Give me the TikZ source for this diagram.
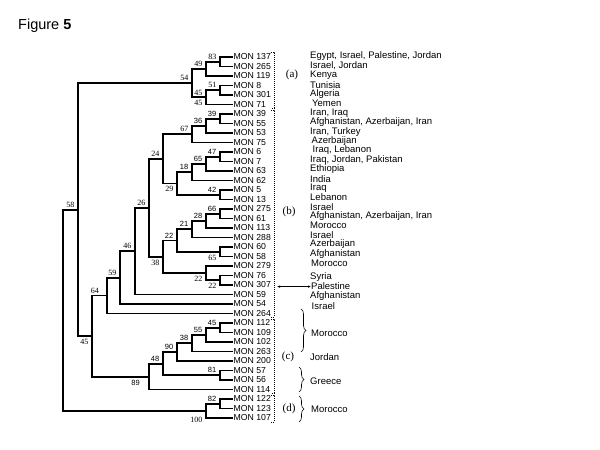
\documentclass[tikz,border=0pt]{standalone}
\usepackage{fontspec}
\setmainfont{Liberation Sans}
\newfontfamily\tnr{Liberation Serif}
\usetikzlibrary{decorations.pathreplacing,arrows.meta}

\tikzset{
  br/.style={line width=1.9pt},
  leaf/.style={anchor=west, inner sep=0.5pt, font=\fontsize{8.7}{9}\selectfont},
  ctry/.style={anchor=west, inner sep=0pt, font=\fontsize{9.5}{10}\selectfont},
  up/.style={anchor=south east, inner sep=0pt, xshift=-3.5pt, yshift=2pt},
  dn/.style={anchor=north east, inner sep=0pt, xshift=-3.5pt, yshift=-3pt},
  ts/.style={font=\tnr\fontsize{8}{8}\selectfont},
  ss/.style={font=\fontsize{7.5}{7.5}\selectfont},
  grp/.style={font=\tnr\fontsize{11}{11}\selectfont, inner sep=0pt},
  bkt/.style={line width=1pt, dash pattern=on 1pt off 1pt},
  brc/.style={decorate, decoration={brace, amplitude=5pt}, line width=0.6pt},
}

\begin{document}
\begin{tikzpicture}[x=1pt, y=-1pt]
\useasboundingbox (0,0) rectangle (600,450);

\node[anchor=base west, inner sep=0pt, font=\fontsize{14.5}{15}\selectfont] (fig) at (18,29.3) {Figure \textbf{5}};

% leaves
\foreach \m [count=\i] in {137,265,119,8,301,71,39,55,53,75,6,7,63,62,5,13,275,61,113,288,60,58,279,76,307,59,54,264,112,109,102,263,200,57,56,114,122,123,107}
  \node[leaf] (l\m) at (233,{57+9.5*(\i-1)}) {MON \m};

% internal nodes
\coordinate (n83) at (220,61.75);
\coordinate (n49) at (206,68.875);
\coordinate (n51) at (220,90.25);
\coordinate (n45a) at (206,97.375);
\coordinate (n54) at (192,83.125);
\coordinate (n39) at (220,118.75);
\coordinate (n36) at (206,125.875);
\coordinate (n67) at (192,134.19);
\coordinate (n47) at (220,156.75);
\coordinate (n65a) at (206,163.875);
\coordinate (n18) at (192,172.19);
\coordinate (n42) at (220,194.75);
\coordinate (n29) at (177,183.47);
\coordinate (n24) at (163,158.83);
\coordinate (n66) at (220,213.75);
\coordinate (n28) at (206,220.875);
\coordinate (n21) at (192,229.19);
\coordinate (n65b) at (220,251.75);
\coordinate (n22a) at (177,240.47);
\coordinate (n22c) at (220,280.25);
\coordinate (n22b) at (206,273.125);
\coordinate (n38a) at (163,256.8);
\coordinate (n26) at (149,207.8);
\coordinate (n46) at (135,251.15);
\coordinate (n59) at (120,277.6);
\coordinate (n64) at (107,295.5);
\coordinate (n45b) at (220,327.75);
\coordinate (n55) at (206,334.9);
\coordinate (n38b) at (192,343.2);
\coordinate (n90) at (177,352.1);
\coordinate (n81) at (220,375.25);
\coordinate (n48) at (163,363.7);
\coordinate (n89) at (149,376.6);
\coordinate (n45c) at (92,336);
\coordinate (n58) at (78,209.6);
\coordinate (n82) at (220,403.75);
\coordinate (n100) at (206,410.9);
\coordinate (root) at (63,310);

% branches
\draw[br] (n83) |- (l137.west) (n83) |- (l265.west);
\draw[br] (n49) |- (n83) (n49) |- (l119.west);
\draw[br] (n51) |- (l8.west) (n51) |- (l301.west);
\draw[br] (n45a) |- (n51) (n45a) |- (l71.west);
\draw[br] (n54) |- (n49) (n54) |- (n45a);
\draw[br] (n39) |- (l39.west) (n39) |- (l55.west);
\draw[br] (n36) |- (n39) (n36) |- (l53.west);
\draw[br] (n67) |- (n36) (n67) |- (l75.west);
\draw[br] (n47) |- (l6.west) (n47) |- (l7.west);
\draw[br] (n65a) |- (n47) (n65a) |- (l63.west);
\draw[br] (n18) |- (n65a) (n18) |- (l62.west);
\draw[br] (n42) |- (l5.west) (n42) |- (l13.west);
\draw[br] (n29) |- (n18) (n29) |- (n42);
\draw[br] (n24) |- (n67) (n24) |- (n29);
\draw[br] (n66) |- (l275.west) (n66) |- (l61.west);
\draw[br] (n28) |- (n66) (n28) |- (l113.west);
\draw[br] (n21) |- (n28) (n21) |- (l288.west);
\draw[br] (n65b) |- (l60.west) (n65b) |- (l58.west);
\draw[br] (n22a) |- (n21) (n22a) |- (n65b);
\draw[br] (n22c) |- (l76.west) (n22c) |- (l307.west);
\draw[br] (n22b) |- (l279.west) (n22b) |- (n22c);
\draw[br] (n38a) |- (n22a) (n38a) |- (n22b);
\draw[br] (n26) |- (n24) (n26) |- (n38a);
\draw[br] (n46) |- (n26) (n46) |- (l59.west);
\draw[br] (n59) |- (n46) (n59) |- (l54.west);
\draw[br] (n64) |- (n59) (n64) |- (l264.west);
\draw[br] (n45b) |- (l112.west) (n45b) |- (l109.west);
\draw[br] (n55) |- (n45b) (n55) |- (l102.west);
\draw[br] (n38b) |- (n55) (n38b) |- (l263.west);
\draw[br] (n90) |- (n38b) (n90) |- (l200.west);
\draw[br] (n81) |- (l57.west) (n81) |- (l56.west);
\draw[br] (n48) |- (n90) (n48) |- (n81);
\draw[br] (n89) |- (n48) (n89) |- (l114.west);
\draw[br] (n45c) |- (n64) (n45c) |- (n89);
\draw[br] (n58) |- (n54) (n58) |- (n45c);
\draw[br] (n82) |- (l122.west) (n82) |- (l123.west);
\draw[br] (n100) |- (n82) (n100) |- (l107.west);
\draw[br] (root) |- (n58) (root) |- (n100);

% bootstrap values
\node[up,ts] (s83) at (n83) {83};
\node[up,ts] (s49) at (n49) {49};
\node[up,ts] (s51) at (n51) {51};
\node[up,ts] (s45a) at (n45a) {45};
\node[dn,ts] (s45d) at (n45a) {45};
\node[up,ts] (s54) at (n54) {54};
\node[up,ss] (s39) at (n39) {39};
\node[up,ss] (s36) at (n36) {36};
\node[up,ts] (s67) at (n67) {67};
\node[up,ss] (s47) at (n47) {47};
\node[up,ss] (s65a) at (n65a) {65};
\node[up,ss] (s18) at (n18) {18};
\node[up,ss] (s42) at (n42) {42};
\node[dn,ts] (s29) at (n29) {29};
\node[up,ts] (s24) at (n24) {24};
\node[up,ss] (s66) at (n66) {66};
\node[up,ss] (s28) at (n28) {28};
\node[up,ss] (s21) at (n21) {21};
\node[dn,ts] (s65b) at (n65b) {65};
\node[up,ss] (s22a) at (n22a) {22};
\node[dn,ts] (s22b) at (n22b) {22};
\node[dn,ts] (s22c) at (n22c) {22};
\node[dn,ts] (s38a) at (n38a) {38};
\node[up,ts] (s26) at (n26) {26};
\node[up,ts] (s46) at (n46) {46};
\node[up,ts] (s59) at (n59) {59};
\node[up,ts,xshift=-4.5pt] (s64) at (n64) {64};
\node[up,ss] (s45b) at (n45b) {45};
\node[up,ss] (s55) at (n55) {55};
\node[up,ss] (s38b) at (n38b) {38};
\node[up,ss] (s90) at (n90) {90};
\node[up,ss] (s48) at (n48) {48};
\node[up,ss] (s81) at (n81) {81};
\node[dn,ss,xshift=-5.5pt] (s89) at (n89) {89};
\node[dn,ts] (s45c) at (n45c) {45};
\node[up,ts] (s58) at (n58) {58};
\node[up,ss] (s82) at (n82) {82};
\node[dn,ts,yshift=-3pt] (s100) at (n100) {100};

% groups
\draw[bkt] (271,52) -- (274,52) -- (274,108) -- (271,108);
\draw[bkt] (271,110) -- (274,110) -- (274,317) -- (271,317);
\draw[bkt] (271,319) -- (274,319) -- (274,393) -- (271,393);
\draw[bkt] (271,395) -- (274,395) -- (274,422) -- (271,422);
\node[grp] (ga) at (292,75) {(a)};
\node[grp] (gb) at (289,212) {(b)};
\node[grp] (gc) at (288,357) {(c)};
\node[grp] (gd) at (289,409) {(d)};

% origins
\foreach \c [count=\i] in {{Egypt, Israel, Palestine, Jordan},{Israel, Jordan},Kenya,Tunisia,Algeria,\hspace{2pt}Yemen,{Iran, Iraq},{Afghanistan, Azerbaijan, Iran},{Iran, Turkey},\hspace{1.5pt}Azerbaijan,{\hspace{2.5pt}Iraq, Lebanon},{Iraq, Jordan, Pakistan},Ethiopia,India,Iraq,Lebanon,Israel,{Afghanistan, Azerbaijan, Iran},Morocco,Israel,Azerbaijan,Afghanistan,\hspace{1pt}Morocco}
  \node[ctry] (c\i) at (310,{56.5+9.4*(\i-1)}) {\c};
\node[ctry] (syr) at (310,277) {Syria};
\node[ctry] (pal) at (311,286.6) {Palestine};
\node[ctry] (afg) at (310,296.2) {Afghanistan};
\node[ctry] (isr) at (311.5,305.8) {Israel};
\node[ctry] (mor1) at (311,333) {Morocco};
\node[ctry] (jor) at (310,357) {Jordan};
\node[ctry] (gre) at (310,381) {Greece};
\node[ctry] (mor2) at (311,409) {Morocco};

\coordinate (arr) at (277,286.6);
\draw[{Latex[length=3pt,width=2.5pt]}-{Latex[length=3pt,width=2.5pt]}, line width=0.6pt] (arr) -- (pal.west);

\draw[brc] (301,309) -- (301,352);
\draw[brc] (299,367) -- (299,392);
\draw[brc] (299,396) -- (299,422);
\end{tikzpicture}
\end{document}
